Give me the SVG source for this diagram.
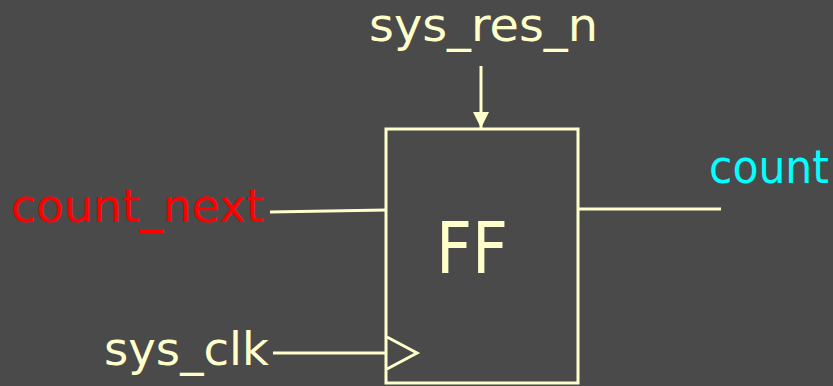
<svg xmlns="http://www.w3.org/2000/svg" width="833" height="386" viewBox="0 0 833 386">
<style>
.w{stroke:#ffffcc;stroke-width:3;fill:none}
text{font-family:"Comic Sans MS","DejaVu Sans",sans-serif;font-size:46px}
.y{fill:#ffffcc}
</style>
<defs>
<marker id="ah" viewBox="0 0 16 16" refX="16" refY="8" markerWidth="16" markerHeight="16" orient="auto" markerUnits="userSpaceOnUse"><path d="M0,0L16,8L0,16z" fill="#ffffcc"/></marker>
</defs>
<rect width="833" height="386" fill="#4a4a4a"/>
<g id="ff">
<rect class="w" x="386" y="129" width="192" height="254"/>
<path class="w" d="M387,337L417,353L387,369"/>
<text class="y" x="436" y="273" style="font-size:72px" textLength="72" lengthAdjust="spacingAndGlyphs">FF</text>
</g>
<g id="sys_res_n"><text class="y" x="369" y="41" textLength="229" lengthAdjust="spacingAndGlyphs">sys_res_n</text></g>
<g id="count_next"><text x="11" y="222" fill="#ff0000" textLength="253" lengthAdjust="spacingAndGlyphs">count_next</text></g>
<g id="count"><text x="709" y="183" fill="#00ffff" textLength="120" lengthAdjust="spacingAndGlyphs">count</text></g>
<g id="sys_clk"><text class="y" x="104" y="365" textLength="165" lengthAdjust="spacingAndGlyphs">sys_clk</text></g>
<g id="connectors">
<line class="w" x1="481" y1="66" x2="481" y2="128" marker-end="url(#ah)"/>
<line class="w" x1="270" y1="212" x2="386" y2="210"/>
<line class="w" x1="578" y1="209" x2="721" y2="209"/>
<line class="w" x1="273" y1="353" x2="386" y2="353"/>
</g>
</svg>
